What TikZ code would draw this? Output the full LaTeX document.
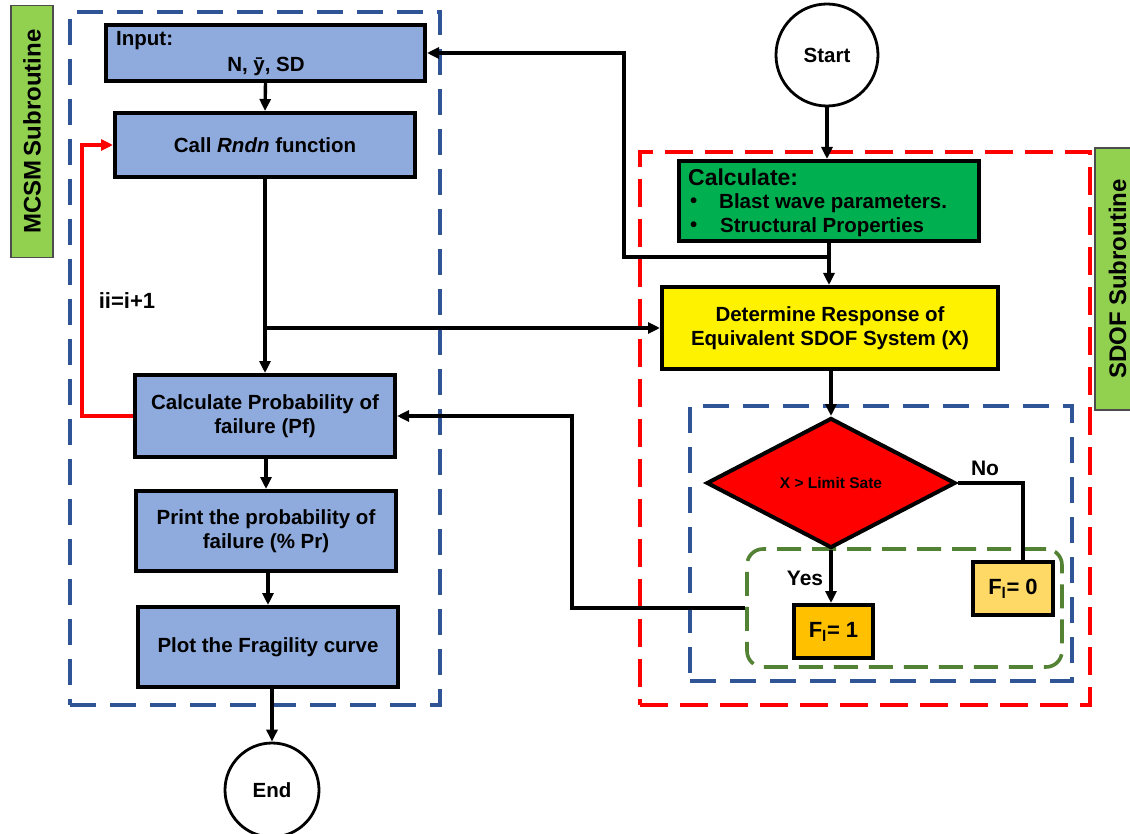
\documentclass[tikz,border=0pt]{standalone}
\usepackage{fontspec}
\setmainfont{Liberation Sans}
\usetikzlibrary{arrows.meta,shapes.geometric}

\definecolor{boxblue}{HTML}{8FAADC}
\definecolor{dashblue}{HTML}{2F5597}
\definecolor{calcgreen}{HTML}{00B050}
\definecolor{labelgreen}{HTML}{92D050}
\definecolor{grpgreen}{HTML}{548235}
\definecolor{fone}{HTML}{FFC000}
\definecolor{fzero}{HTML}{FFD966}

\tikzset{
  x=1pt, y=-1pt,
  every node/.style={font=\bfseries, inner sep=0pt, align=center},
  txt/.style={font=\fontsize{20.5}{24.5}\selectfont\bfseries},
  procbox/.style={draw=black, line width=4pt, fill=boxblue, txt},
  termcircle/.style={draw=black, line width=2.8pt, circle, fill=white, txt, minimum size=#1},
  arr/.style={line width=3.4pt, -{Triangle[length=12pt,width=11pt]}},
  plain/.style={line width=3.4pt},
  frameblue/.style={draw=dashblue, line width=3.6pt, dash pattern=on 26pt off 14pt},
  framered/.style={draw=red, line width=3.6pt, dash pattern=on 28pt off 12pt},
  framegreen/.style={draw=grpgreen, line width=3.6pt, dash pattern=on 24pt off 11pt, rounded corners=16pt},
  sidelabel/.style={draw=black!70, line width=1.5pt, fill=labelgreen, rotate=90,
    font=\fontsize{24}{28}\selectfont\bfseries},
}

\begin{document}
\begin{tikzpicture}
\useasboundingbox (0,0) rectangle (1130,834);

% dashed group frames
\node[frameblue, minimum width=370pt, minimum height=693pt] (mcsmframe) at (255,358.5) {};
\node[framered, minimum width=450pt, minimum height=553pt] (sdofframe) at (865,428.5) {};
\node[frameblue, minimum width=382pt, minimum height=275pt] (checkframe) at (881,543.5) {};
\node[framegreen, minimum width=315pt, minimum height=118pt] (grp) at (904.5,608) {};

% side labels
\node[sidelabel, minimum width=252pt, minimum height=42pt] (mcsmlabel) at (32,131.5) {MCSM\,Subroutine};
\node[sidelabel, minimum width=262pt, minimum height=45pt] (sdoflabel) at (1117.5,279) {SDOF Subroutine};

% MCSM subroutine
\node[procbox, minimum width=319pt, minimum height=56pt] (input) at (265.5,53) {};
\node[txt, anchor=west] (inputhead) at (116,41) {Input:};
\node[txt] (inputvals) at (266,66) {N, ȳ, SD};
\node[procbox, minimum width=300pt, minimum height=64pt] (rndn) at (265,145) {Call \textit{Rndn} function};
\node[procbox, minimum width=260pt, minimum height=82pt] (pf) at (265,416) {Calculate Probability of\\failure (Pf)};
\node[procbox, minimum width=260pt, minimum height=80pt] (print) at (266,531) {Print the probability of\\failure (\% Pr)};
\node[procbox, minimum width=260pt, minimum height=80pt] (plot) at (268,647) {Plot the Fragility curve};
\node[termcircle=94pt] (end) at (272,790) {End};
\node[font=\fontsize{22}{26}\selectfont\bfseries] (iter) at (127,301) {ii=i+1};

% SDOF subroutine
\node[termcircle=102pt] (start) at (827,55) {Start};
\node[draw=black, line width=4pt, fill=calcgreen, minimum width=300pt, minimum height=80pt] (calc) at (829,201) {};
\node[anchor=west, font=\fontsize{23}{27}\selectfont\bfseries] (calchead) at (688,177) {Calculate:};
\node[anchor=west, txt] (b1) at (690,203) {\textbullet};
\node[anchor=west, txt] (b1t) at (719,203) {Blast wave parameters.};
\node[anchor=west, txt] (b2) at (690,227) {\textbullet};
\node[anchor=west, txt] (b2t) at (720,227) {Structural Properties};
\node[draw=black, line width=4pt, fill=yellow, txt, minimum width=336pt, minimum height=82pt] (det) at (830,328)
  {Determine Response of\\Equivalent SDOF System (X)};
\node[diamond, draw=black, line width=4pt, fill=red, shape aspect=1.9, minimum width=249pt, minimum height=130pt,
  font=\fontsize{15.5}{18}\selectfont\bfseries] (dec) at (831,483) {X > Limit Sate};
\node[draw=black, line width=4pt, fill=fzero, minimum width=80pt, minimum height=53pt,
  font=\fontsize{22}{26}\selectfont\bfseries] (f0) at (1013,588.5) {F\textsubscript{l}= 0};
\node[draw=black, line width=4pt, fill=fone, minimum width=79pt, minimum height=53pt,
  font=\fontsize{22}{26}\selectfont\bfseries] (f1) at (833.5,631.5) {F\textsubscript{l}= 1};
\node[font=\fontsize{21}{25}\selectfont\bfseries] (nolbl) at (985,468) {No};
\node[font=\fontsize{21}{25}\selectfont\bfseries] (yeslbl) at (805,578) {Yes};

% connectors
\coordinate (split) at (265,328);
\coordinate (join) at (829,257);
\draw[arr] (input.south) -- (rndn.north);
\draw[arr] (rndn.south) -- (pf.north);
\draw[arr] (split) -- (det.west);
\draw[arr, red] (pf.west) -- ++(-51,0) |- (rndn.west);
\draw[arr] (print.north |- pf.south) -- (print.north);
\draw[arr] (plot.north |- print.south) -- (plot.north);
\draw[arr] (plot.south -| end.north) -- (end.north);
\draw[arr] (start.south) -- (start.south |- calc.north);
\draw[plain] (calc.south -| join) -- (join);
\draw[arr] (join) -- (624,257) |- (input.east);
\draw[arr] (join) -- (join |- det.north);
\draw[arr] (det.south -| dec.north) -- (dec.north);
\draw[plain] (dec.east) -| ([xshift=10pt]f0.north);
\draw[arr] (dec.south) -- (dec.south |- f1.north);
\draw[arr] (grp.west) -- (572,608) |- (pf.east);
\end{tikzpicture}
\end{document}
